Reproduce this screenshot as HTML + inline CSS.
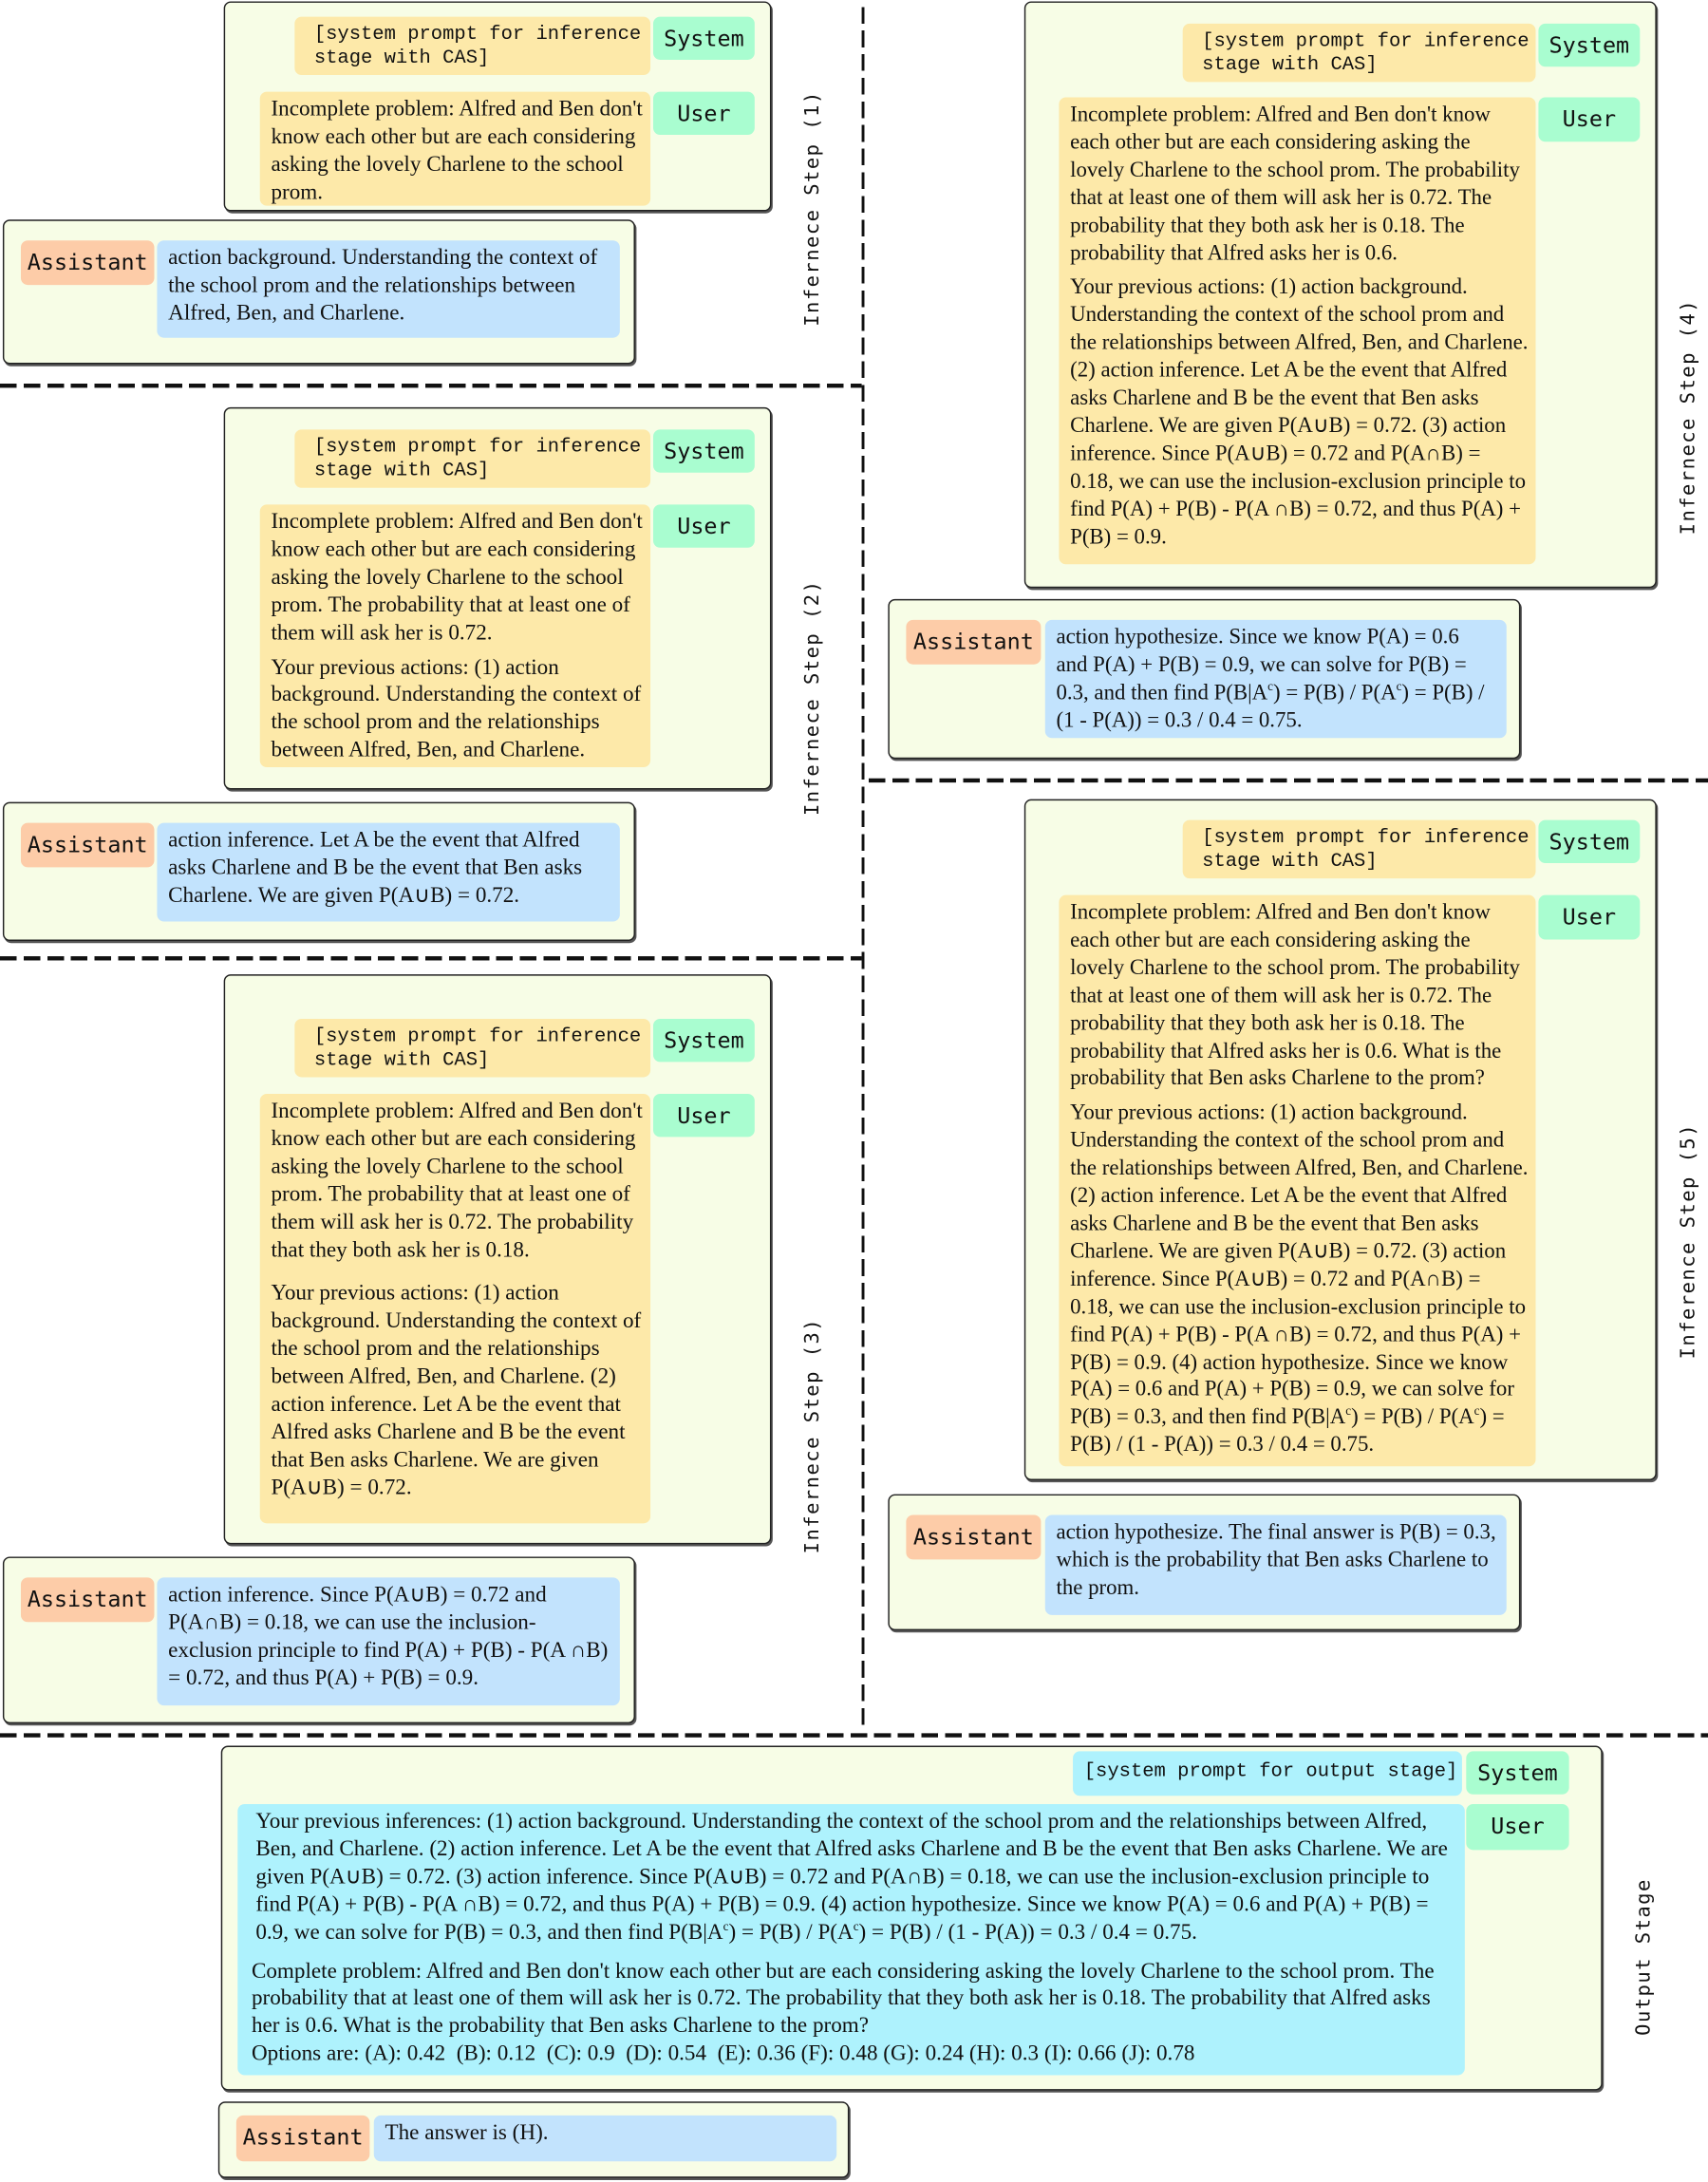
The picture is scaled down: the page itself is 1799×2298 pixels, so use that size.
<!DOCTYPE html>
<html><head><meta charset="utf-8"><style>
html,body{margin:0;padding:0;background:#fff;}
body{width:1799px;height:2298px;overflow:hidden;position:relative;}
#w{position:absolute;left:0;top:0;width:1229px;height:1570px;transform:scale(1.4638);transform-origin:0 0;}
.b{position:absolute;background:#f7fde6;border:1.3px solid #222;border-radius:5px;box-shadow:1px 1.5px 0 #555;box-sizing:border-box;}
.t{position:absolute;border-radius:5px;box-sizing:border-box;font-family:"Liberation Serif",serif;font-size:15.8px;line-height:19.9px;color:#111;padding:3px 2px 0 8px;}
.t p{margin:0 0 5px 0;}
.r{font-size:15.6px;padding-right:0;}
.y{background:#fde9a9;}.g{background:#a9fdd0;}.o{background:#fdcca8;}.bl{background:#c2e3fd;}.c{background:#aef2fd;}
.m{font-family:"Liberation Mono","DejaVu Sans Mono",monospace;font-size:14px;line-height:17px;padding:5px 0 0 14px;white-space:nowrap;}
.l{font-family:"DejaVu Sans Mono","Liberation Mono",monospace;font-size:16px;line-height:31px;text-align:center;padding:0;}
.hd{position:absolute;height:2.5px;background:repeating-linear-gradient(90deg,#111 0 12px,transparent 12px 17px);}
.vd{position:absolute;width:2px;background:repeating-linear-gradient(180deg,#111 0 12px,transparent 12px 17px);}
.st{position:absolute;font-family:"DejaVu Sans Mono","Liberation Mono",monospace;font-size:14px;letter-spacing:1px;writing-mode:vertical-rl;transform:translate(-50%,-50%) rotate(180deg);white-space:nowrap;color:#111;}
sup{font-size:9px;line-height:0;}
</style></head><body><div id="w">

<div class="vd" style="left:620px;top:5px;height:1240px"></div>
<div class="hd" style="left:0;top:276px;width:620px"></div>
<div class="hd" style="left:0;top:688px;width:620px"></div>
<div class="hd" style="left:625px;top:560px;width:604px"></div>
<div class="hd" style="left:0;top:1247px;width:1229px"></div>

<!-- step 1 -->
<div class="b" style="left:161px;top:1px;width:394px;height:151px"></div>
<div class="t y m" style="left:212px;top:12px;width:256px;height:42px">[system prompt for inference<br>stage with CAS]</div>
<div class="t g l" style="left:470px;top:12px;width:73px;height:31px">System</div>
<div class="t y" style="left:187px;top:66px;width:281px;height:82px">Incomplete problem: Alfred and Ben don't know each other but are each considering asking the lovely Charlene to the school prom.</div>
<div class="t g l" style="left:470px;top:66px;width:73px;height:31px">User</div>
<div class="b" style="left:2px;top:158px;width:455px;height:104px"></div>
<div class="t o l" style="left:15px;top:173px;width:96px;height:32px">Assistant</div>
<div class="t bl" style="left:113px;top:173px;width:333px;height:70px">action background. Understanding the context of the school prom and the relationships between Alfred, Ben, and Charlene.</div>
<div class="st" style="left:585px;top:150px">Infernece Step (1)</div>

<!-- step 2 -->
<div class="b" style="left:161px;top:293px;width:394px;height:275px"></div>
<div class="t y m" style="left:212px;top:309px;width:256px;height:42px">[system prompt for inference<br>stage with CAS]</div>
<div class="t g l" style="left:470px;top:309px;width:73px;height:31px">System</div>
<div class="t y" style="left:187px;top:363px;width:281px;height:189px"><p>Incomplete problem: Alfred and Ben don't know each other but are each considering asking the lovely Charlene to the school prom. The probability that at least one of them will ask her is 0.72.</p><p>Your previous actions: (1) action background. Understanding the context of the school prom and the relationships between Alfred, Ben, and Charlene.</p></div>
<div class="t g l" style="left:470px;top:363px;width:73px;height:31px">User</div>
<div class="b" style="left:2px;top:577px;width:455px;height:100px"></div>
<div class="t o l" style="left:15px;top:592px;width:96px;height:32px">Assistant</div>
<div class="t bl" style="left:113px;top:592px;width:333px;height:71px">action inference. Let A be the event that Alfred asks Charlene and B be the event that Ben asks Charlene. We are given P(A∪B) = 0.72.</div>
<div class="st" style="left:585px;top:502px">Infernece Step (2)</div>

<!-- step 3 -->
<div class="b" style="left:161px;top:701px;width:394px;height:410px"></div>
<div class="t y m" style="left:212px;top:733px;width:256px;height:42px">[system prompt for inference<br>stage with CAS]</div>
<div class="t g l" style="left:470px;top:733px;width:73px;height:31px">System</div>
<div class="t y" style="left:187px;top:787px;width:281px;height:309px"><p style="margin-bottom:12px">Incomplete problem: Alfred and Ben don't know each other but are each considering asking the lovely Charlene to the school prom. The probability that at least one of them will ask her is 0.72. The probability that they both ask her is 0.18.</p><p>Your previous actions: (1) action background. Understanding the context of the school prom and the relationships between Alfred, Ben, and Charlene. (2) action inference. Let A be the event that Alfred asks Charlene and B be the event that Ben asks Charlene. We are given P(A∪B) = 0.72.</p></div>
<div class="t g l" style="left:470px;top:787px;width:73px;height:31px">User</div>
<div class="b" style="left:2px;top:1120px;width:455px;height:120px"></div>
<div class="t o l" style="left:15px;top:1135px;width:96px;height:32px">Assistant</div>
<div class="t bl" style="left:113px;top:1135px;width:333px;height:92px">action inference. Since P(A∪B) = 0.72 and P(A∩B) = 0.18, we can use the inclusion-exclusion principle to find P(A) + P(B) - P(A ∩B) = 0.72, and thus P(A) + P(B) = 0.9.</div>
<div class="st" style="left:585px;top:1033px">Infernece Step (3)</div>

<!-- step 4 -->
<div class="b" style="left:737px;top:1px;width:455px;height:422px"></div>
<div class="t y m" style="left:851px;top:17px;width:254px;height:42px">[system prompt for inference<br>stage with CAS]</div>
<div class="t g l" style="left:1107px;top:17px;width:73px;height:31px">System</div>
<div class="t y r" style="left:762px;top:70px;width:343px;height:336px"><p>Incomplete problem: Alfred and Ben don't know<br>each other but are each considering asking the<br>lovely Charlene to the school prom. The probability<br>that at least one of them will ask her is 0.72. The<br>probability that they both ask her is 0.18. The<br>probability that Alfred asks her is 0.6.</p><p>Your previous actions: (1) action background.<br>Understanding the context of the school prom and<br>the relationships between Alfred, Ben, and Charlene.<br>(2) action inference. Let A be the event that Alfred<br>asks Charlene and B be the event that Ben asks<br>Charlene. We are given P(A∪B) = 0.72. (3) action<br>inference. Since P(A∪B) = 0.72 and P(A∩B) =<br>0.18, we can use the inclusion-exclusion principle to<br>find P(A) + P(B) - P(A ∩B) = 0.72, and thus P(A) +<br>P(B) = 0.9.</p></div>
<div class="t g l" style="left:1107px;top:70px;width:73px;height:32px">User</div>
<div class="b" style="left:639px;top:431px;width:455px;height:115px"></div>
<div class="t o l" style="left:652px;top:446px;width:97px;height:32px">Assistant</div>
<div class="t bl r" style="left:752px;top:446px;width:332px;height:85px">action hypothesize. Since we know P(A) = 0.6<br>and P(A) + P(B) = 0.9, we can solve for P(B) =<br>0.3, and then find P(B|A<sup>c</sup>) = P(B) / P(A<sup>c</sup>) = P(B) /<br>(1 - P(A)) = 0.3 / 0.4 = 0.75.</div>
<div class="st" style="left:1215px;top:300px">Infernece Step (4)</div>

<!-- step 5 -->
<div class="b" style="left:737px;top:575px;width:455px;height:490px"></div>
<div class="t y m" style="left:851px;top:590px;width:254px;height:42px">[system prompt for inference<br>stage with CAS]</div>
<div class="t g l" style="left:1107px;top:590px;width:73px;height:31px">System</div>
<div class="t y r" style="left:762px;top:644px;width:343px;height:411px"><p>Incomplete problem: Alfred and Ben don't know<br>each other but are each considering asking the<br>lovely Charlene to the school prom. The probability<br>that at least one of them will ask her is 0.72. The<br>probability that they both ask her is 0.18. The<br>probability that Alfred asks her is 0.6. What is the<br>probability that Ben asks Charlene to the prom?</p><p>Your previous actions: (1) action background.<br>Understanding the context of the school prom and<br>the relationships between Alfred, Ben, and Charlene.<br>(2) action inference. Let A be the event that Alfred<br>asks Charlene and B be the event that Ben asks<br>Charlene. We are given P(A∪B) = 0.72. (3) action<br>inference. Since P(A∪B) = 0.72 and P(A∩B) =<br>0.18, we can use the inclusion-exclusion principle to<br>find P(A) + P(B) - P(A ∩B) = 0.72, and thus P(A) +<br>P(B) = 0.9. (4) action hypothesize. Since we know<br>P(A) = 0.6 and P(A) + P(B) = 0.9, we can solve for<br>P(B) = 0.3, and then find P(B|A<sup>c</sup>) = P(B) / P(A<sup>c</sup>) =<br>P(B) / (1 - P(A)) = 0.3 / 0.4 = 0.75.</p></div>
<div class="t g l" style="left:1107px;top:644px;width:73px;height:32px">User</div>
<div class="b" style="left:639px;top:1075px;width:455px;height:98px"></div>
<div class="t o l" style="left:652px;top:1090px;width:97px;height:32px">Assistant</div>
<div class="t bl r" style="left:752px;top:1090px;width:332px;height:72px">action hypothesize. The final answer is P(B) = 0.3, which is the probability that Ben asks Charlene to the prom.</div>
<div class="st" style="left:1215px;top:893px">Inference Step (5)</div>

<!-- output -->
<div class="b" style="left:159px;top:1256px;width:994px;height:248px"></div>
<div class="t c m" style="left:772px;top:1260px;width:280px;height:32px;padding:7px 0 0 8px">[system prompt for output stage]</div>
<div class="t g l" style="left:1055px;top:1260px;width:74px;height:31px">System</div>
<div class="t c" style="left:171px;top:1298px;width:883px;height:195px;padding-left:13px"><p style="margin-bottom:8px">Your previous inferences: (1) action background. Understanding the context of the school prom and the relationships between Alfred, Ben, and Charlene. (2) action inference. Let A be the event that Alfred asks Charlene and B be the event that Ben asks Charlene. We are given P(A∪B) = 0.72. (3) action inference. Since P(A∪B) = 0.72 and P(A∩B) = 0.18, we can use the inclusion-exclusion principle to find P(A) + P(B) - P(A ∩B) = 0.72, and thus P(A) + P(B) = 0.9. (4) action hypothesize. Since we know P(A) = 0.6 and P(A) + P(B) = 0.9, we can solve for P(B) = 0.3, and then find P(B|A<sup>c</sup>) = P(B) / P(A<sup>c</sup>) = P(B) / (1 - P(A)) = 0.3 / 0.4 = 0.75.</p><p style="margin-left:-3px">Complete problem: Alfred and Ben don't know each other but are each considering asking the lovely Charlene to the school prom. The probability that at least one of them will ask her is 0.72. The probability that they both ask her is 0.18. The probability that Alfred asks her is 0.6. What is the probability that Ben asks Charlene to the prom?<br>Options are: (A): 0.42 &nbsp;(B): 0.12 &nbsp;(C): 0.9 &nbsp;(D): 0.54 &nbsp;(E): 0.36 (F): 0.48 (G): 0.24 (H): 0.3 (I): 0.66 (J): 0.78</p></div>
<div class="t g l" style="left:1055px;top:1298px;width:74px;height:33px">User</div>
<div class="b" style="left:157px;top:1512px;width:454px;height:55px"></div>
<div class="t o l" style="left:170px;top:1522px;width:96px;height:33px">Assistant</div>
<div class="t bl" style="left:269px;top:1522px;width:333px;height:33px">The answer is (H).</div>
<div class="st" style="left:1183px;top:1408px">Output Stage</div>

</div></body></html>
